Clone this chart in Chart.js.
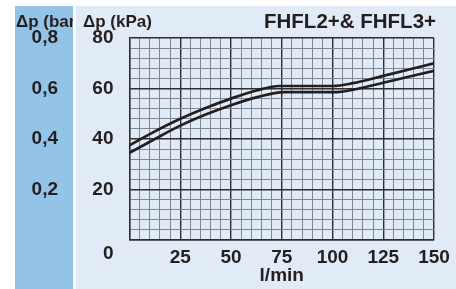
<!DOCTYPE html>
<html>
<head>
<meta charset="utf-8">
<script src="https://cdn.jsdelivr.net/npm/chart.js@4.4.0/dist/chart.umd.min.js"></script>
<style>
  html, body { margin: 0; padding: 0; background: #fff; }
  #wrap { width: 456px; height: 289px; }
</style>
</head>
<body>
<div id="wrap"><canvas id="chart"></canvas></div>
<script>
// upper curve (l/min -> kPa)
const flowUpper = [0, 12.5, 25, 37.5, 50, 62.5, 74, 100, 110, 125, 150];
const dpUpper = [37.5, 43, 48, 52.3, 56, 59.2, 61, 61, 62.1, 65, 70];
// lower curve
const flowLower = [0, 12.5, 25, 37.5, 50, 62.5, 76, 102, 112, 125, 150];
const dpLower = [34.5, 40, 45.3, 49.7, 53.4, 56.5, 58.6, 58.6, 59.8, 62.3, 67];

const xTicks = [25, 50, 75, 100, 125, 150];
const kpaTicks = [20, 40, 60, 80];
const barTicks = ["0,2", "0,4", "0,6", "0,8"];

const title = "FHFL2+& FHFL3+";
const kpaTitle = "\u0394p (kPa)";
const barTitle = "\u0394p (bar)";
const xTitle = "l/min";

const FONT = "'Liberation Sans', Arial, sans-serif";
const TXT = "#231f20";
const MINOR = "#7f8792";
const MAJOR = "#2e2e30";

const toPoints = (xs, ys) => xs.map((x, i) => ({ x, y: ys[i] }));

const panels = {
  id: "panels",
  beforeDraw(chart) {
    const ctx = chart.ctx;
    ctx.save();
    ctx.fillStyle = "#ffffff";
    ctx.fillRect(0, 0, chart.width, chart.height);
    ctx.fillStyle = "#93c4e8";
    ctx.fillRect(15, 6, 58, chart.height - 6);
    ctx.fillStyle = "#e1ebf7";
    ctx.fillRect(76, 6, chart.width - 76, chart.height - 6);
    ctx.restore();
  },
  afterDraw(chart) {
    const ctx = chart.ctx;
    const y = chart.scales.y;
    const x = chart.scales.x;
    ctx.save();
    ctx.fillStyle = TXT;
    ctx.textBaseline = "middle";
    // zero of the kPa scale sits on the row of the flow labels
    ctx.font = "bold 19px " + FONT;
    ctx.textAlign = "right";
    ctx.fillText("0", y.right - 16, x.top + 14);
    // axis headers
    ctx.font = "bold 17px " + FONT;
    ctx.textAlign = "left";
    ctx.fillText(kpaTitle, 83, 22);
    ctx.save();
    ctx.beginPath();
    ctx.rect(15, 6, 58, 30);
    ctx.clip();
    ctx.fillText(barTitle, 16, 22);
    ctx.restore();
    ctx.font = "bold 20.5px " + FONT;
    ctx.textAlign = "right";
    ctx.fillText(title, 436, 22);
    ctx.restore();
  }
};

new Chart(document.getElementById("chart"), {
  type: "line",
  data: {
    datasets: [
      {
        data: toPoints(flowUpper, dpUpper),
        borderColor: TXT,
        borderWidth: 2.7,
        pointRadius: 0,
        fill: false,
        cubicInterpolationMode: "monotone"
      },
      {
        data: toPoints(flowLower, dpLower),
        borderColor: TXT,
        borderWidth: 2.7,
        pointRadius: 0,
        fill: false,
        cubicInterpolationMode: "monotone"
      }
    ]
  },
  options: {
    responsive: true,
    maintainAspectRatio: false,
    animation: false,
    layout: { padding: { top: 38, right: 22, left: 0, bottom: 0 } },
    plugins: { legend: { display: false }, tooltip: { enabled: false } },
    scales: {
      x: {
        type: "linear",
        min: 0,
        max: 150,
        afterFit: (s) => { s.height = 49; },
        afterBuildTicks: (s) => {
          s.ticks = [];
          for (let v = 0; v <= 150; v += 5) s.ticks.push({ value: v });
        },
        grid: {
          drawTicks: false,
          color: (c) => (c.tick && c.tick.value % 25 === 0 ? MAJOR : MINOR),
          lineWidth: (c) => (c.tick && c.tick.value % 25 === 0 ? 1.4 : 1)
        },
        border: { color: MAJOR, width: 1.4 },
        ticks: {
          padding: 6,
          color: TXT,
          font: { family: FONT, size: 19, weight: "bold" },
          autoSkip: false,
          maxRotation: 0,
          callback: (v) => (xTicks.includes(v) ? String(v) : "")
        },
        title: {
          display: true,
          text: xTitle,
          color: TXT,
          font: { family: FONT, size: 19, weight: "bold" },
          padding: { top: 0, bottom: 2 }
        }
      },
      y: {
        type: "linear",
        position: "left",
        weight: 0,
        min: 0,
        max: 80,
        afterFit: (s) => { s.width = 53.5; },
        afterBuildTicks: (s) => {
          s.ticks = [];
          for (let v = 0; v <= 80; v += 4) s.ticks.push({ value: v });
        },
        grid: {
          drawTicks: false,
          color: (c) => (c.tick && c.tick.value % 20 === 0 ? MAJOR : MINOR),
          lineWidth: (c) => (c.tick && c.tick.value % 20 === 0 ? 1.4 : 1)
        },
        border: { color: MAJOR, width: 1.4 },
        ticks: {
          padding: 16,
          color: TXT,
          font: { family: FONT, size: 19, weight: "bold" },
          autoSkip: false,
          callback: (v) => (kpaTicks.includes(v) ? String(v) : "")
        }
      },
      y2: {
        type: "linear",
        position: "left",
        weight: 1,
        min: 0,
        max: 0.8,
        afterFit: (s) => { s.width = 76; },
        afterBuildTicks: (s) => {
          s.ticks = [0.2, 0.4, 0.6, 0.8].map((v) => ({ value: v }));
        },
        grid: { display: false, drawTicks: false },
        border: { display: false },
        ticks: {
          padding: 18,
          color: TXT,
          font: { family: FONT, size: 19, weight: "bold" },
          autoSkip: false,
          callback: (v, i) => barTicks[i]
        }
      }
    }
  },
  plugins: [panels]
});
</script>
</body>
</html>
